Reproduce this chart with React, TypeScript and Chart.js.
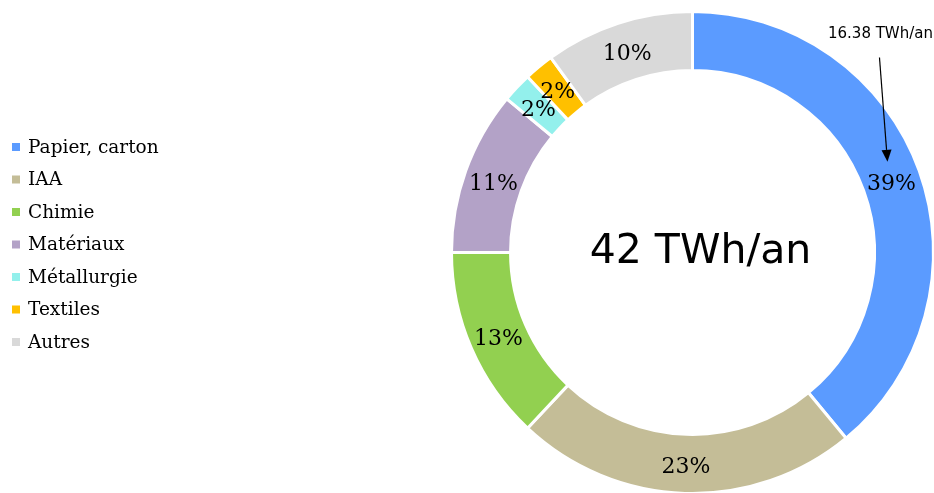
import React, { useEffect, useRef } from "react";
import { Chart, registerables } from "chart.js";

Chart.register(...registerables);

const categories = ["Papier, carton", "IAA", "Chimie", "Matériaux", "Métallurgie", "Textiles", "Autres"];
const shares = [39, 23, 13, 11, 2, 2, 10];
const colors = ["#5B9BFF", "#C4BD97", "#92D050", "#B3A2C7", "#93F0EC", "#FFC000", "#D9D9D9"];
const centerText = "42 TWh/an";
const calloutText = "16.38 TWh/an";

const labelsPlugin = {
  id: "customLabels",
  afterDraw(chart: any) {
    const ctx = chart.ctx;
    const meta = chart.getDatasetMeta(0);
    ctx.save();
    // percentage labels
    ctx.font = "22px 'DejaVu Serif'";
    ctx.fillStyle = "#000";
    ctx.textAlign = "center";
    ctx.textBaseline = "middle";
    meta.data.forEach((arc: any, i: number) => {
      const p = arc.getProps(["x", "y", "startAngle", "endAngle", "innerRadius", "outerRadius"], true);
      const a = (p.startAngle + p.endAngle) / 2;
      const r = (p.innerRadius + p.outerRadius) / 2;
      ctx.fillText(shares[i] + "%", p.x + r * Math.cos(a), p.y + r * Math.sin(a) + 3);
    });
    // center text
    const a0 = meta.data[0].getProps(["x", "y", "startAngle", "endAngle", "innerRadius", "outerRadius"], true);
    ctx.font = "41px 'DejaVu Sans'";
    ctx.fillText(centerText, a0.x + 8, a0.y);
    // callout
    const am = (a0.startAngle + a0.endAngle) / 2;
    const rm = (a0.innerRadius + a0.outerRadius) / 2;
    const lx = a0.x + rm * Math.cos(am);
    const ly = a0.y + rm * Math.sin(am);
    const tipX = lx - 4;
    const tipY = ly - 19;
    const startX = tipX - 8;
    const startY = a0.y - a0.outerRadius + 46;
    ctx.font = "15px 'DejaVu Sans'";
    ctx.fillText(calloutText, startX + 1, a0.y - a0.outerRadius + 23);
    ctx.strokeStyle = "#000";
    ctx.lineWidth = 1.2;
    const ang = Math.atan2(tipY - startY, tipX - startX);
    const hl = 12;
    ctx.beginPath();
    ctx.moveTo(startX, startY);
    ctx.lineTo(tipX - hl * Math.cos(ang), tipY - hl * Math.sin(ang));
    ctx.stroke();
    ctx.beginPath();
    ctx.moveTo(tipX, tipY);
    ctx.lineTo(tipX - hl * Math.cos(ang) + 5 * Math.sin(ang), tipY - hl * Math.sin(ang) - 5 * Math.cos(ang));
    ctx.lineTo(tipX - hl * Math.cos(ang) - 5 * Math.sin(ang), tipY - hl * Math.sin(ang) + 5 * Math.cos(ang));
    ctx.closePath();
    ctx.fillStyle = "#000";
    ctx.fill();
    // legend
    ctx.textAlign = "left";
    ctx.font = "18.5px 'DejaVu Serif'";
    const y0 = 147;
    const step = 32.5;
    categories.forEach((c, i) => {
      const y = y0 + i * step;
      ctx.fillStyle = colors[i];
      ctx.fillRect(12, y - 4, 8, 8);
      ctx.fillStyle = "#000";
      ctx.fillText(c, 28, y + 1);
    });
    ctx.restore();
  },
};

export default function App() {
  const ref = useRef<HTMLCanvasElement>(null);
  useEffect(() => {
    document.body.style.margin = "0";
    const chart = new Chart(ref.current!, {
      type: "doughnut",
      data: {
        labels: categories,
        datasets: [
          {
            data: shares,
            backgroundColor: colors,
            borderColor: "#ffffff",
            borderWidth: 3,
          },
        ],
      },
      options: {
        animation: false,
        responsive: false,
        cutout: "75.5%",
        layout: { padding: { left: 450, top: 10, right: 5, bottom: 5 } },
        plugins: { legend: { display: false }, tooltip: { enabled: false } },
      },
      plugins: [labelsPlugin],
    });
    return () => chart.destroy();
  }, []);
  return (
    <div style={{ width: 934, height: 493, overflow: "hidden" }}>
      <canvas ref={ref} width={940} height={500} style={{ display: "block" }} />
    </div>
  );
}
